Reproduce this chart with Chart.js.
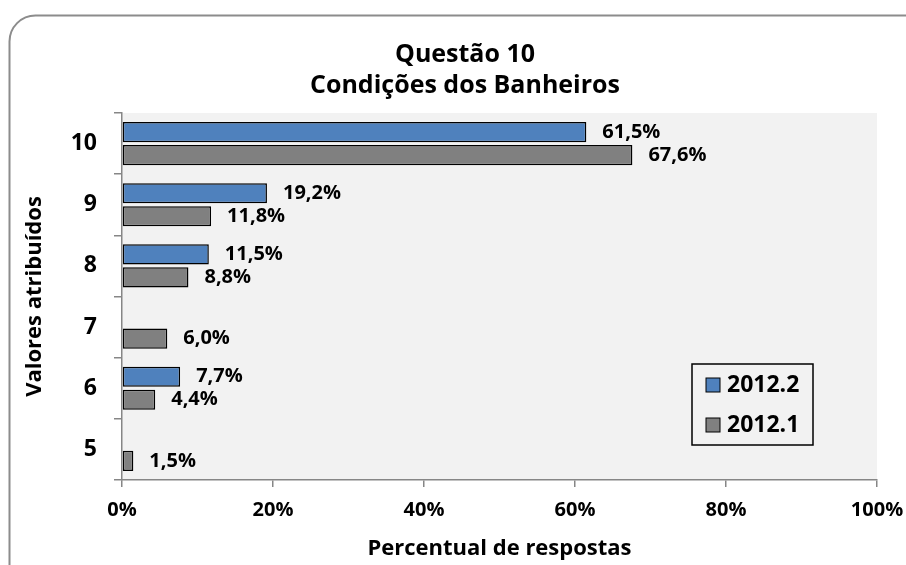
<!DOCTYPE html>
<html lang="pt">
<head>
    <meta charset="UTF-8">
    <title>Questão 10 - Condições dos Banheiros</title>
    <script src="https://cdn.jsdelivr.net/npm/chart.js"></script>
    <style>
        body { margin: 0; background: #fff; }
        canvas { display: block; }
    </style>
</head>
<body>
    <canvas id="chart" width="906" height="565"></canvas>

    <script>
        // dados
        const categorias = ['10', '9', '8', '7', '6', '5'];
        const serie2012_2 = [61.5, 19.2, 11.5, null, 7.7, null];
        const serie2012_1 = [67.6, 11.8, 8.8, 6.0, 4.4, 1.5];
        const ticksX = [0, 20, 40, 60, 80, 100];
        const titulo = ['Questão 10', 'Condições dos Banheiros'];

        const fonte = "'Open Sans', sans-serif";
        const cinzaEixo = '#868686';

        // moldura arredondada + fundo da área do gráfico + título
        const fundo = {
            id: 'fundo',
            beforeDraw(chart) {
                const ctx = chart.ctx;
                const a = chart.chartArea;
                ctx.save();
                ctx.fillStyle = '#fff';
                ctx.fillRect(0, 0, chart.width, chart.height);
                ctx.strokeStyle = '#8c8c8c';
                ctx.lineWidth = 2;
                ctx.beginPath();
                ctx.roundRect(9.5, 15.5, 920, 580, 26);
                ctx.stroke();
                ctx.fillStyle = '#f2f2f2';
                ctx.fillRect(a.left, a.top, a.right - a.left, a.bottom - a.top);
                // título (centrado um pouco à esquerda, como no original)
                ctx.fillStyle = '#000';
                ctx.font = 'bold 25px ' + fonte;
                ctx.textAlign = 'center';
                ctx.textBaseline = 'middle';
                titulo.forEach((t, i) => ctx.fillText(t, 465, 55 + i * 31));
                ctx.restore();
            }
        };

        // rótulos de valor ao fim das barras
        const rotulos = {
            id: 'rotulos',
            afterDatasetsDraw(chart) {
                const ctx = chart.ctx;
                ctx.save();
                ctx.font = 'bold 20px ' + fonte;
                ctx.fillStyle = '#000';
                ctx.textBaseline = 'middle';
                ctx.textAlign = 'left';
                chart.data.datasets.forEach((ds, i) => {
                    chart.getDatasetMeta(i).data.forEach((bar, j) => {
                        const v = ds.data[j];
                        if (v == null) return;
                        ctx.fillText(v.toFixed(1).replace('.', ',') + '%', bar.x + 16, bar.y);
                    });
                });
                ctx.restore();
            }
        };

        // legenda dentro da área do gráfico
        const legenda = {
            id: 'legenda',
            afterDraw(chart) {
                const ctx = chart.ctx;
                const x = 692, y = 364, w = 121, h = 81;
                ctx.save();
                ctx.fillStyle = '#f2f2f2';
                ctx.fillRect(x, y, w, h);
                ctx.strokeStyle = '#000';
                ctx.lineWidth = 1.5;
                ctx.strokeRect(x, y, w, h);
                ctx.font = 'bold 23px ' + fonte;
                ctx.textBaseline = 'middle';
                chart.data.datasets.forEach((ds, i) => {
                    const cy = y + 21 + i * 40;
                    ctx.fillStyle = ds.backgroundColor;
                    ctx.fillRect(x + 14, cy - 7, 14, 14);
                    ctx.lineWidth = 1;
                    ctx.strokeRect(x + 14, cy - 7, 14, 14);
                    ctx.fillStyle = '#000';
                    ctx.fillText(ds.label, x + 35, cy);
                });
                ctx.restore();
            }
        };

        const ctx = document.getElementById('chart').getContext('2d');
        new Chart(ctx, {
            type: 'bar',
            data: {
                labels: categorias,
                datasets: [
                    {
                        label: '2012.2',
                        data: serie2012_2,
                        backgroundColor: '#4f81bd',
                        borderColor: '#000',
                        borderWidth: 1.5,
                        borderSkipped: false
                    },
                    {
                        label: '2012.1',
                        data: serie2012_1,
                        backgroundColor: '#808080',
                        borderColor: '#000',
                        borderWidth: 1.5,
                        borderSkipped: false
                    }
                ]
            },
            options: {
                indexAxis: 'y',
                responsive: false,
                animation: false,
                categoryPercentage: 0.75,
                barPercentage: 0.88,
                layout: { padding: { left: 20, right: 29, top: 113, bottom: 0 } },
                plugins: {
                    legend: { display: false },
                    tooltip: { enabled: false },
                    title: { display: false }
                },
                scales: {
                    x: {
                        min: 0,
                        max: 100,
                        afterBuildTicks: s => { s.ticks = ticksX.map(v => ({ value: v })); },
                        afterFit: s => { s.height = 85; s.paddingLeft = 0; s.paddingRight = 0; },
                        grid: { drawOnChartArea: false, tickLength: 7, color: cinzaEixo, lineWidth: 1.5 },
                        border: { color: cinzaEixo, width: 1.5 },
                        ticks: {
                            padding: 11,
                            color: '#000',
                            font: { family: fonte, size: 20, weight: 'bold' },
                            callback: v => v + '%'
                        },
                        title: {
                            display: true,
                            text: 'Percentual de respostas',
                            color: '#000',
                            font: { family: fonte, size: 22, weight: 'bold' },
                            padding: { top: 0, bottom: 3 }
                        }
                    },
                    y: {
                        afterFit: s => { s.width = 102; s.paddingTop = 0; s.paddingBottom = 0; },
                        grid: { drawOnChartArea: false, offset: true, tickLength: 8, color: cinzaEixo, lineWidth: 1.5 },
                        border: { color: cinzaEixo, width: 1.5 },
                        ticks: {
                            padding: 17,
                            color: '#000',
                            font: { family: fonte, size: 23, weight: 'bold' }
                        },
                        title: {
                            display: true,
                            text: 'Valores atribuídos',
                            color: '#000',
                            font: { family: fonte, size: 22, weight: 'bold' },
                            padding: { top: 2, bottom: 0 }
                        }
                    }
                }
            },
            plugins: [fundo, rotulos, legenda]
        });
    </script>
</body>
</html>
